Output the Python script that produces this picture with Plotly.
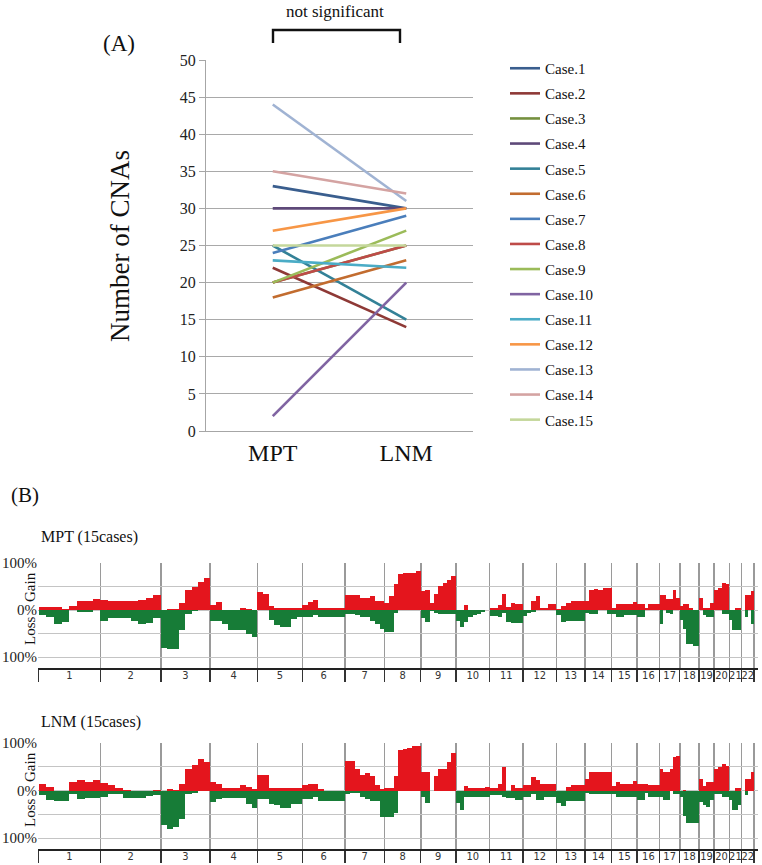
import plotly.graph_objects as go

W, H = 762, 865

# ---------------- Panel A data ----------------
cases = ["Case.1", "Case.2", "Case.3", "Case.4", "Case.5", "Case.6", "Case.7", "Case.8",
         "Case.9", "Case.10", "Case.11", "Case.12", "Case.13", "Case.14", "Case.15"]
mpt_cna = [33, 22, 20, 30, 25, 18, 24, 20, 20, 2, 23, 27, 44, 35, 25]
lnm_cna = [30, 14, 25, 30, 15, 23, 29, 25, 27, 20, 22, 30, 31, 32, 25]
case_colors = ["#3A5E8E", "#8E3936", "#75903F", "#5E4979", "#338197", "#C26C2F",
               "#4A7EBB", "#BE4B48", "#9BBB59", "#8064A2", "#4BACC6", "#F79646",
               "#A0B3D3", "#D4A3A2", "#C4D79B"]
groups = ["MPT", "LNM"]

# ---------------- Panel B data ----------------
chrom_labels = [str(i) for i in range(1, 23)]
chrom_len = [249, 243, 198, 191, 181, 171, 159, 146, 141, 136, 135, 134,
             115, 107, 103, 90, 81, 78, 59, 63, 48, 51]

mpt_gain = [
    [6, 6, 6, 3, 8, 20, 20, 24],
    [22, 20, 20, 20, 20, 22, 26, 33],
    [0, 3, 2, 15, 42, 50, 60, 69],
    [12, 17, 0, 0, 0, 4, 2, 0],
    [38, 34, 10, 4, 4, 4, 4, 4],
    [12, 18, 22, 5, 4, 4, 4, 4],
    [33, 33, 33, 26, 26, 30, 20, 20],
    [16, 30, 55, 77, 80, 80, 80, 84],
    [41, 42, 15, 35, 52, 58, 65, 73],
    [0, 0, 12, 0, 0, 0, 0, 0],
    [4, 4, 12, 35, 6, 15, 13, 13],
    [0, 0, 20, 30, 5, 4, 13, 13],
    [3, 10, 16, 19, 20, 20],
    [20, 42, 45, 42, 48, 48],
    [5, 13, 13, 13, 13, 18],
    [13, 13, 5, 13, 13, 13],
    [32, 32, 23, 23, 44, 27],
    [10, 13, 13, 5, 0, 0],
    [25, 5, 4, 16],
    [42, 47, 58, 55],
    [0, 0, 4, 4],
    [0, 32, 32, 40],
]
mpt_loss = [
    [10, 15, 30, 26, 0, 4, 3, 0],
    [22, 16, 17, 17, 22, 30, 28, 17],
    [81, 83, 83, 43, 7, 2, 0, 0],
    [23, 23, 30, 42, 42, 42, 50, 56],
    [0, 0, 20, 32, 35, 35, 18, 15],
    [14, 14, 10, 15, 15, 15, 15, 15],
    [7, 8, 10, 15, 15, 23, 30, 40],
    [47, 47, 5, 0, 0, 0, 0, 0],
    [16, 25, 2, 5, 8, 8, 8, 8],
    [22, 35, 25, 15, 10, 8, 4, 0],
    [12, 12, 15, 5, 25, 28, 28, 28],
    [12, 5, 3, 0, 0, 0, 0, 0],
    [10, 25, 22, 22, 22, 22],
    [5, 8, 8, 0, 0, 8],
    [8, 15, 15, 10, 10, 10],
    [15, 15, 0, 0, 0, 0],
    [29, 0, 5, 7, 0, 0],
    [20, 40, 71, 71, 76, 76],
    [0, 10, 15, 15],
    [0, 0, 8, 8],
    [20, 42, 42, 42],
    [0, 15, 0, 29],
]
lnm_gain = [
    [14, 7, 0, 0, 18, 22, 19, 22],
    [16, 11, 5, 2, 0, 0, 0, 2],
    [0, 3, 2, 15, 46, 55, 66, 61],
    [18, 14, 5, 5, 5, 11, 8, 4],
    [32, 32, 5, 5, 5, 5, 5, 5],
    [13, 14, 15, 3, 0, 0, 0, 0],
    [63, 63, 45, 32, 38, 30, 12, 4],
    [5, 5, 30, 86, 88, 91, 94, 94],
    [39, 39, 0, 30, 46, 46, 60, 79],
    [0, 0, 10, 5, 5, 5, 5, 8],
    [5, 5, 15, 50, 0, 12, 5, 5],
    [12, 12, 28, 22, 14, 14, 14, 14],
    [0, 0, 8, 12, 12, 12],
    [25, 39, 39, 39, 39, 39],
    [10, 19, 14, 14, 14, 20],
    [14, 14, 14, 12, 12, 12],
    [46, 39, 39, 46, 70, 74],
    [0, 2, 0, 0, 0, 0],
    [25, 10, 18, 18],
    [46, 50, 57, 53],
    [0, 0, 5, 5],
    [0, 25, 25, 40],
]
lnm_loss = [
    [10, 19, 22, 22, 8, 18, 16, 16],
    [14, 8, 6, 16, 16, 15, 12, 10],
    [72, 80, 77, 60, 7, 5, 0, 0],
    [24, 17, 15, 15, 15, 15, 28, 36],
    [17, 17, 29, 31, 36, 36, 29, 29],
    [17, 17, 14, 22, 22, 22, 22, 22],
    [8, 4, 5, 14, 17, 22, 22, 55],
    [55, 55, 48, 0, 0, 0, 0, 0],
    [14, 25, 0, 0, 0, 0, 0, 0],
    [26, 40, 14, 14, 14, 14, 14, 14],
    [9, 9, 9, 13, 16, 16, 19, 19],
    [14, 14, 6, 19, 19, 14, 14, 14],
    [25, 33, 21, 21, 21, 21],
    [4, 7, 7, 7, 7, 7],
    [7, 14, 14, 14, 14, 14],
    [19, 19, 5, 14, 14, 14],
    [13, 20, 20, 0, 6, 6],
    [13, 54, 68, 68, 68, 68],
    [23, 30, 35, 19],
    [6, 6, 14, 14],
    [20, 40, 40, 30],
    [0, 9, 0, 0],
]

GAIN_COLOR = "#E4151D"
LOSS_COLOR = "#177C37"
SERIF = "'Times New Roman', 'Liberation Serif', serif"


def px_x(p):
    return p / W


def px_y(p):
    return 1 - p / H


def bins(gain_lists, loss_lists):
    xs, ws, gs, ls = [], [], [], []
    start = 0
    for L, gl, ll in zip(chrom_len, gain_lists, loss_lists):
        n = len(gl)
        w = L / n
        for i in range(n):
            xs.append(start + (i + 0.5) * w)
            ws.append(w)
            gs.append(gl[i])
            ls.append(-ll[i])
        start += L
    return xs, ws, gs, ls


fig = go.Figure()

# Panel A lines
for name, a, b, c in zip(cases, mpt_cna, lnm_cna, case_colors):
    fig.add_trace(go.Scatter(
        x=groups, y=[a, b], mode="lines", name=name, legendgroup=name,
        line=dict(color=c, width=2.6), xaxis="x", yaxis="y"))

# Panel B bars
for (gl, ll, xa, ya) in [(mpt_gain, mpt_loss, "x2", "y2"), (lnm_gain, lnm_loss, "x3", "y3")]:
    xs, ws, gs, ls = bins(gl, ll)
    fig.add_trace(go.Bar(x=xs, y=gs, width=ws, marker=dict(color=GAIN_COLOR, line=dict(width=0)),
                         showlegend=False, xaxis=xa, yaxis=ya, hoverinfo="skip"))
    fig.add_trace(go.Bar(x=xs, y=ls, width=ws, marker=dict(color=LOSS_COLOR, line=dict(width=0)),
                         showlegend=False, xaxis=xa, yaxis=ya, hoverinfo="skip"))

total = sum(chrom_len)
bounds = [0]
for L in chrom_len:
    bounds.append(bounds[-1] + L)
mids = [(bounds[i] + bounds[i + 1]) / 2 for i in range(len(chrom_len))]

xB = dict(
    range=[-2, total + 16], domain=[px_x(38), px_x(758)], automargin=False,
    tickmode="array", tickvals=mids, ticktext=chrom_labels, ticks="", tickangle=0,
    ticklabelstandoff=-4,
    tickfont=dict(family="DejaVu Sans Condensed", size=11, color="#333"),
    showgrid=False, zeroline=False, showline=True, linecolor="#222", linewidth=1.5,
    minor=dict(tickmode="array", tickvals=bounds, ticks="outside", ticklen=12,
               tickcolor="#333", tickwidth=1.5, showgrid=True, gridcolor="#9A9A9A", gridwidth=1.6),
    fixedrange=True,
)
yB = dict(
    range=[-123, 100.5], tickmode="array", tickvals=[-100, -50, 0, 50, 100],
    ticktext=["100%", "", "0%", "", "100%"], ticks="", automargin=False,
    tickfont=dict(family=SERIF, size=15, color="#222"),
    showgrid=True, gridcolor="#C4C4C4", gridwidth=1, zeroline=False, showline=False,
    fixedrange=True,
)

fig.update_layout(
    width=W, height=H, margin=dict(l=0, r=0, t=0, b=0, autoexpand=False),
    paper_bgcolor="white", plot_bgcolor="white",
    barmode="overlay", bargap=0, hovermode=False,
    font=dict(family=SERIF, color="#111"),
    xaxis=dict(domain=[px_x(206), px_x(473)], type="category", range=[-0.5, 1.5],
               showgrid=False, showline=True, linecolor="#A6A6A6", linewidth=1, automargin=False,
               ticks="", tickfont=dict(family=SERIF, size=24, color="#111"), anchor="y",
               fixedrange=True),
    yaxis=dict(domain=[px_y(431), px_y(60)], range=[0, 50], dtick=5, automargin=False,
               showgrid=True, gridcolor="#A9A9A9", gridwidth=1, zeroline=False,
               showline=True, linecolor="#A6A6A6", ticks="outside", ticklen=6,
               tickcolor="#A6A6A6", tickfont=dict(family=SERIF, size=16, color="#222"),
               anchor="x", fixedrange=True),
    xaxis2=dict(xB, anchor="y2"),
    yaxis2=dict(yB, domain=[px_y(668), px_y(563)], anchor="x2"),
    xaxis3=dict(xB, anchor="y3"),
    yaxis3=dict(yB, domain=[px_y(849), px_y(743)], anchor="x3"),
    legend=dict(x=px_x(505), y=px_y(52), xanchor="left", yanchor="top",
                font=dict(family=SERIF, size=15, color="#111"),
                tracegroupgap=2.6, itemwidth=30, bgcolor="rgba(0,0,0,0)"),
)

ann = []


def add_text(text, x, y, size, xanchor="center", angle=0):
    ann.append(dict(text=text, x=px_x(x), y=px_y(y), xref="paper", yref="paper",
                    showarrow=False, xanchor=xanchor, yanchor="middle", textangle=angle,
                    font=dict(family=SERIF, size=size, color="#111")))


add_text("(A)", 119, 44, 23)
add_text("not significant", 335, 11, 17)
add_text("Number of CNAs", 120, 246, 27, angle=-90)
add_text("(B)", 25, 495, 21)
add_text("MPT (15cases)", 39, 537, 16, xanchor="left")
add_text("LNM (15cases)", 39, 722, 16, xanchor="left")
add_text("Gain", 30, 587, 15, angle=-90)
add_text("Loss", 30, 631, 15, angle=-90)
add_text("Gain", 30, 767, 15, angle=-90)
add_text("Loss", 30, 813, 15, angle=-90)
fig.update_layout(annotations=ann)

# bracket for "not significant"
x1, x2, yt, yb = px_x(273), px_x(400), px_y(30), px_y(43)
fig.add_shape(type="path", xref="paper", yref="paper",
              path=f"M {x1} {yb} L {x1} {yt} L {x2} {yt} L {x2} {yb}",
              line=dict(color="#111", width=2.4))

fig.write_html("out.html", config={"displayModeBar": False, "staticPlot": True},
               post_script="document.body.style.margin='0';document.body.style.overflow='hidden';")
